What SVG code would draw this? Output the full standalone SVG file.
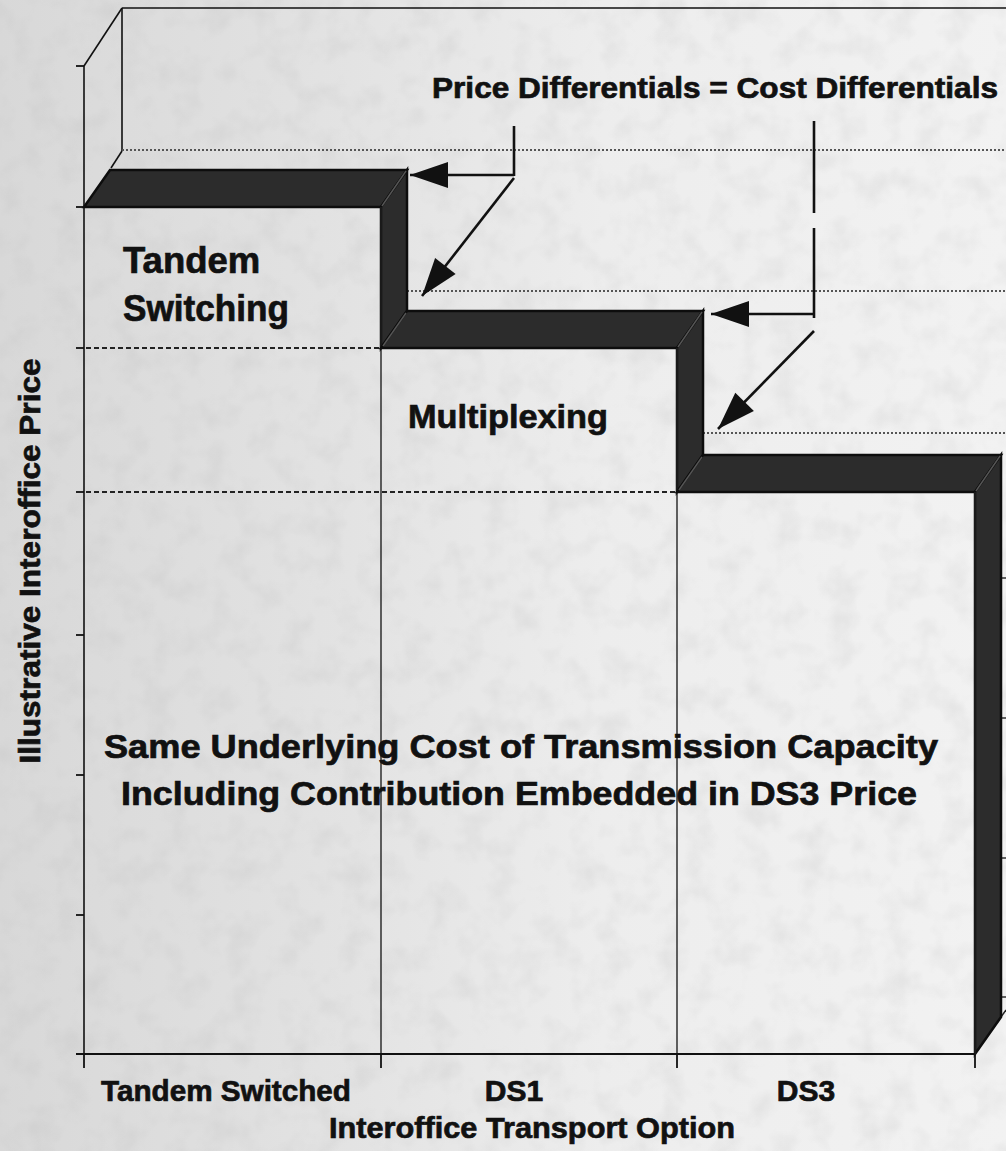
<svg xmlns="http://www.w3.org/2000/svg" width="1006" height="1151" viewBox="0 0 1006 1151">
<style>
  text { font-family: "Liberation Sans", Arial, Helvetica, sans-serif; font-weight: bold; fill: #111; stroke: #111; stroke-width: 0.7; }
  .edge { stroke: #111; stroke-width: 1.6; fill: none; }
  .thin { stroke: #222; stroke-width: 1.4; fill: none; }
  .dark { fill: #2c2c2c; stroke: #0d0d0d; stroke-width: 2.5; stroke-linejoin: miter; }
  .bevel { stroke: #555; stroke-width: 1.5; fill: none; }
  .grid { stroke: #555; stroke-width: 2; stroke-dasharray: 2 2; fill: none; }
  .level { stroke: #222; stroke-width: 2; stroke-dasharray: 5 3; fill: none; }
  .conn { stroke: #111; stroke-width: 2.6; fill: none; }
  .tick { stroke: #111; stroke-width: 1.8; }
</style>
<defs>
  <linearGradient id="paperGrad" x1="0" y1="0" x2="1" y2="0">
    <stop offset="0" stop-color="#d8d8d8"/>
    <stop offset="0.35" stop-color="#e3e3e3"/>
    <stop offset="0.6" stop-color="#ededed"/>
    <stop offset="1" stop-color="#f2f2f2"/>
  </linearGradient>
  <filter id="noise" x="0" y="0" width="100%" height="100%">
    <feTurbulence type="fractalNoise" baseFrequency="0.035" numOctaves="3" seed="7"/>
    <feColorMatrix type="matrix" values="0 0 0 0 0.45  0 0 0 0 0.45  0 0 0 0 0.45  0 0 0 -1.6 0.9"/>
  </filter>
  <marker id="arrow" viewBox="-42 -15 44 30" refX="0" refY="0" markerWidth="44" markerHeight="30" markerUnits="userSpaceOnUse" orient="auto">
    <path d="M0,0 L-38,-13 L-38,13 Z" fill="#111"/>
  </marker>
</defs>

<!-- paper background -->
<rect x="0" y="0" width="1006" height="1151" fill="url(#paperGrad)"/>
<rect x="0" y="0" width="1006" height="1151" filter="url(#noise)" opacity="0.25"/>

<!-- back wall and left wall -->
<g id="walls">
  <line class="edge" x1="122" y1="8" x2="1006" y2="8"/>
  <line class="edge" x1="122" y1="8" x2="122" y2="151"/>
  <line class="edge" x1="84" y1="66" x2="122" y2="8"/>
  <line class="edge" x1="111" y1="168" x2="122" y2="151"/>
  <line class="grid" x1="122" y1="150" x2="1006" y2="150"/>
  <line class="grid" x1="407" y1="291" x2="1006" y2="291"/>
  <line class="grid" x1="703" y1="433" x2="1006" y2="433"/>
  <line class="thin" x1="1001" y1="578" x2="1006" y2="578"/>
  <line class="thin" x1="1001" y1="718" x2="1006" y2="718"/>
  <line class="thin" x1="1001" y1="858" x2="1006" y2="858"/>
  <line class="thin" x1="1001" y1="997" x2="1006" y2="997"/>
  <line class="thin" x1="1001" y1="1017" x2="1006" y2="1010"/>
</g>

<!-- bar: Tandem Switched -->
<g id="bar-tandem">
  <polygon class="dark" points="84,207 381,207 407,170 110,170"/>
  <polygon class="dark" points="381,207 407,170 407,311 381,348"/>
  <line class="bevel" x1="382" y1="206" x2="406" y2="171"/>
  <line class="thin" x1="381" y1="207" x2="381" y2="1054"/>
  <line class="level" x1="86" y1="348" x2="380" y2="348"/>
</g>

<!-- bar: DS1 -->
<g id="bar-ds1">
  <polygon class="dark" points="381,348 677,348 703,311 407,311"/>
  <polygon class="dark" points="677,348 703,311 703,455 677,492"/>
  <line class="bevel" x1="383" y1="346" x2="406" y2="313"/>
  <line class="bevel" x1="678" y1="347" x2="702" y2="312"/>
  <line class="thin" x1="677" y1="348" x2="677" y2="1054"/>
  <line class="level" x1="86" y1="492" x2="676" y2="492"/>
</g>

<!-- bar: DS3 -->
<g id="bar-ds3">
  <polygon class="dark" points="677,492 975,492 1001,455 703,455"/>
  <polygon class="dark" points="975,492 1001,455 1001,1017 975,1054"/>
  <line class="bevel" x1="679" y1="490" x2="702" y2="457"/>
  <line class="bevel" x1="976" y1="491" x2="1000" y2="456"/>
  <line class="thin" x1="975" y1="492" x2="975" y2="1054"/>
</g>

<!-- axes -->
<g id="axes">
  <line class="edge" x1="84" y1="66" x2="84" y2="1054"/>
  <line x1="76" y1="1054" x2="975" y2="1054" stroke="#111" stroke-width="2.2"/>
  <line class="tick" x1="76" y1="66" x2="84" y2="66"/>
  <line class="tick" x1="76" y1="207" x2="84" y2="207"/>
  <line class="tick" x1="76" y1="348" x2="84" y2="348"/>
  <line class="tick" x1="76" y1="492" x2="84" y2="492"/>
  <line class="tick" x1="76" y1="635" x2="84" y2="635"/>
  <line class="tick" x1="76" y1="775" x2="84" y2="775"/>
  <line class="tick" x1="76" y1="915" x2="84" y2="915"/>
  <line class="tick" x1="84" y1="1054" x2="84" y2="1068"/>
  <line class="tick" x1="381" y1="1054" x2="381" y2="1068"/>
  <line class="tick" x1="677" y1="1054" x2="677" y2="1068"/>
  <line class="tick" x1="975" y1="1054" x2="975" y2="1068"/>
</g>

<!-- connectors -->
<g id="connectors">
  <line class="conn" x1="514" y1="126" x2="514" y2="176"/>
  <line class="conn" x1="514" y1="175" x2="410" y2="175" marker-end="url(#arrow)"/>
  <line class="conn" x1="514" y1="178" x2="422" y2="296" marker-end="url(#arrow)"/>
  <line class="conn" x1="814" y1="121" x2="814" y2="213"/>
  <line class="conn" x1="814" y1="228" x2="814" y2="318"/>
  <line class="conn" x1="814" y1="314" x2="711" y2="314" marker-end="url(#arrow)"/>
  <line class="conn" x1="814" y1="331" x2="718" y2="429" marker-end="url(#arrow)"/>
</g>

<!-- labels -->
<g id="labels">
  <text x="432" y="98" font-size="29" textLength="566" lengthAdjust="spacingAndGlyphs">Price Differentials = Cost Differentials</text>
  <text x="123" y="273" font-size="36.5">Tandem</text>
  <text x="123" y="321" font-size="36.5" textLength="166" lengthAdjust="spacingAndGlyphs">Switching</text>
  <text x="408" y="428" font-size="34" textLength="200" lengthAdjust="spacingAndGlyphs">Multiplexing</text>
  <text x="104" y="758" font-size="33" textLength="834" lengthAdjust="spacingAndGlyphs">Same Underlying Cost of Transmission Capacity</text>
  <text x="121" y="805" font-size="33" textLength="796" lengthAdjust="spacingAndGlyphs">Including Contribution Embedded in DS3 Price</text>
  <text x="101" y="1101" font-size="30" textLength="250" lengthAdjust="spacingAndGlyphs">Tandem Switched</text>
  <text x="514" y="1101" font-size="30" text-anchor="middle">DS1</text>
  <text x="806" y="1101" font-size="30" text-anchor="middle">DS3</text>
  <text x="329" y="1138" font-size="30" textLength="406" lengthAdjust="spacingAndGlyphs">Interoffice Transport Option</text>
  <text x="0" y="0" font-size="30" text-anchor="middle" textLength="405" lengthAdjust="spacingAndGlyphs" transform="translate(40,561) rotate(-90)">Illustrative Interoffice Price</text>
</g>
</svg>
